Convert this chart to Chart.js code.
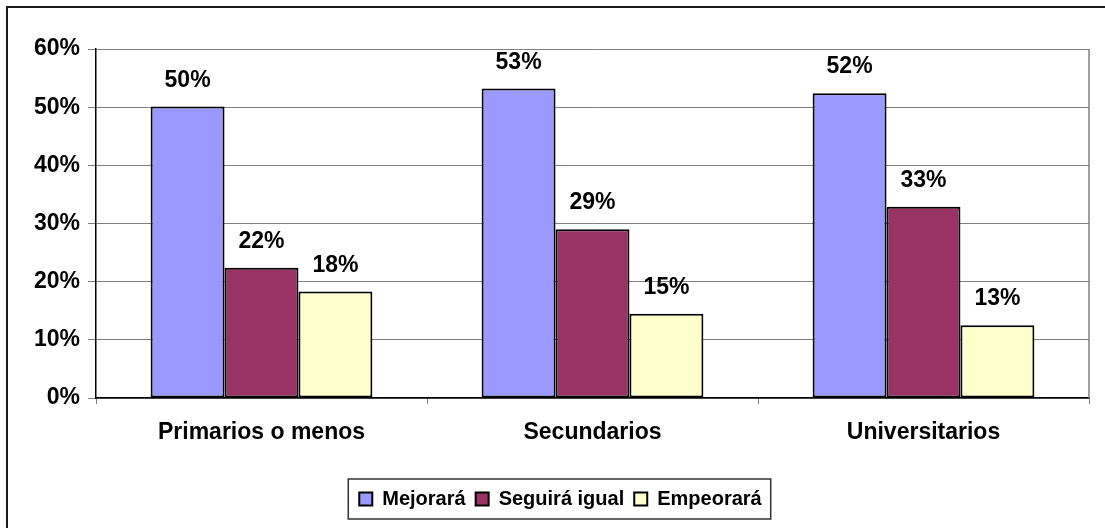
<!DOCTYPE html>
<html>
<head>
<meta charset="utf-8">
<script src="https://cdn.jsdelivr.net/npm/chart.js@4.4.1/dist/chart.umd.min.js"></script>
<style>
  html, body { margin: 0; padding: 0; background: #fff; }
  #wrap { width: 1105px; height: 528px; }
</style>
</head>
<body>
<div id="wrap"><canvas id="out" width="1105" height="528"></canvas></div>
<script>
const categories = ["Primarios o menos", "Secundarios", "Universitarios"];
const seriesNames = ["Mejorará", "Seguirá igual", "Empeorará"];
const mejorara = [50.1, 53.2, 52.4];
const seguiraIgual = [22.4, 29.0, 32.9];
const empeorara = [18.3, 14.5, 12.5];
const yTicks = [0, 10, 20, 30, 40, 50, 60];

const fontName = "'Liberation Sans', Arial, sans-serif";

// outer frame + right edge of the plot area + legend frame
const framePlugin = {
  id: "frame",
  beforeDraw(chart) {
    const ctx = chart.ctx;
    ctx.save();
    ctx.fillStyle = "#fff";
    ctx.fillRect(0, 0, chart.width, chart.height);
    ctx.strokeStyle = "#1a1a1a";
    ctx.lineWidth = 2;
    ctx.strokeRect(7, 7, chart.width + 20, chart.height + 20);
    ctx.restore();
  },
  afterDraw(chart) {
    const ctx = chart.ctx;
    const area = chart.chartArea;
    ctx.save();
    ctx.strokeStyle = "#808080";
    ctx.lineWidth = 1.5;
    ctx.beginPath();
    ctx.moveTo(area.right, area.top);
    ctx.lineTo(area.right, area.bottom);
    ctx.stroke();

    const lg = chart.legend;
    if (lg && lg.legendHitBoxes.length) {
      const boxes = lg.legendHitBoxes;
      const left = boxes[0].left - 11;
      const right = boxes[boxes.length - 1].left + boxes[boxes.length - 1].width + 9;
      ctx.strokeStyle = "#333";
      ctx.lineWidth = 1.5;
      ctx.strokeRect(left, lg.top, right - left, lg.bottom - lg.top);
    }
    ctx.restore();
  }
};

// value labels above each bar
const labelPlugin = {
  id: "barLabels",
  afterDatasetsDraw(chart) {
    const ctx = chart.ctx;
    ctx.save();
    ctx.font = "bold 23px " + fontName;
    ctx.fillStyle = "#000";
    ctx.textAlign = "center";
    ctx.textBaseline = "alphabetic";
    chart.data.datasets.forEach((ds, i) => {
      const meta = chart.getDatasetMeta(i);
      meta.data.forEach((bar, j) => {
        ctx.fillText(Math.round(ds.data[j]) + "%", bar.x, bar.y - 20);
      });
    });
    ctx.restore();
  }
};

const canvasCtx = document.getElementById("out").getContext("2d");

const chartConfig = {
  type: "bar",
  data: {
    labels: categories,
    datasets: [
      {
        label: seriesNames[0],
        data: mejorara,
        backgroundColor: "#9999FF",
        borderColor: "#000",
        borderWidth: 2,
        borderSkipped: false
      },
      {
        label: seriesNames[1],
        data: seguiraIgual,
        backgroundColor: "#993366",
        borderColor: "#000",
        borderWidth: 2,
        borderSkipped: false
      },
      {
        label: seriesNames[2],
        data: empeorara,
        backgroundColor: "#FFFFCC",
        borderColor: "#000",
        borderWidth: 2,
        borderSkipped: false
      }
    ]
  },
  options: {
    responsive: false,
    animation: false,
    categoryPercentage: 0.67,
    barPercentage: 1.0,
    layout: { padding: { left: 32, top: 49, right: 16, bottom: 9 } },
    plugins: {
      tooltip: { enabled: false },
      legend: {
        position: "bottom",
        labels: {
          color: "#000",
          font: { family: fontName, size: 20, weight: "bold" },
          boxWidth: 13,
          boxHeight: 13,
          padding: 10
        }
      }
    },
    scales: {
      x: {
        grid: {
          offset: true,
          drawOnChartArea: false,
          tickLength: 6,
          color: "#808080",
          lineWidth: 1
        },
        border: { color: "#000", width: 1.5 },
        ticks: {
          color: "#000",
          padding: 15,
          font: { family: fontName, size: 23, weight: "bold" }
        },
        afterFit(scale) { scale.height = 81; }
      },
      y: {
        min: 0,
        max: 60,
        afterBuildTicks(scale) { scale.ticks = yTicks.map(v => ({ value: v })); },
        grid: { color: "#808080", lineWidth: 1, tickLength: 8 },
        border: { color: "#000", width: 1.5 },
        ticks: {
          color: "#000",
          padding: 8,
          font: { family: fontName, size: 23, weight: "bold" },
          callback: v => v + "%"
        },
        afterFit(scale) { scale.width = 64; }
      }
    }
  },
  plugins: [framePlugin, labelPlugin]
};

window.chart = new Chart(canvasCtx, chartConfig);
</script>
</body>
</html>
